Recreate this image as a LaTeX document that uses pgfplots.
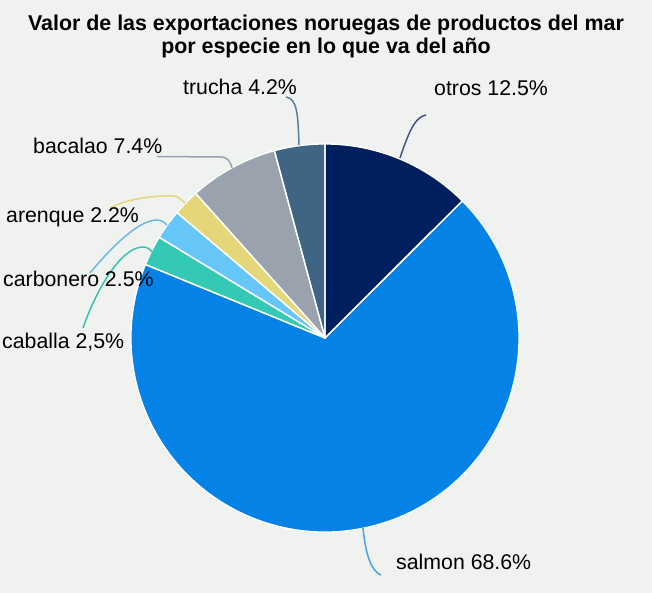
\documentclass[border=0pt]{standalone}
\usepackage{pgfplots}
\pgfplotsset{compat=1.18}
\usepackage{fontspec}
\setmainfont{Liberation Sans}
\definecolor{bgc}{HTML}{F0F2F0}
\definecolor{cOtros}{HTML}{001F5F}
\definecolor{cSalmon}{HTML}{0582E6}
\definecolor{cCaballa}{HTML}{33C9B4}
\definecolor{cCarbonero}{HTML}{66C6F8}
\definecolor{cArenque}{HTML}{E6D67A}
\definecolor{cBacalao}{HTML}{9AA3AD}
\definecolor{cTrucha}{HTML}{3E6684}
% data (percent)
\def\vTrucha{4.2}
\def\vBacalao{7.4}
\def\vArenque{2.2}
\def\vCarbonero{2.5}
\def\vCaballa{2.5}
\def\vSalmon{68.6}
\def\vOtros{12.5}
\pgfmathsetmacro\pietot{\vTrucha+\vBacalao+\vArenque+\vCarbonero+\vCaballa+\vSalmon+\vOtros}
\pgfmathsetmacro\piefac{360/\pietot}
\pgfmathsetmacro\aA{90}
\pgfmathsetmacro\aB{\aA+\vTrucha*\piefac}
\pgfmathsetmacro\aC{\aB+\vBacalao*\piefac}
\pgfmathsetmacro\aD{\aC+\vArenque*\piefac}
\pgfmathsetmacro\aE{\aD+\vCarbonero*\piefac}
\pgfmathsetmacro\aF{\aE+\vCaballa*\piefac}
\pgfmathsetmacro\aG{\aF+\vSalmon*\piefac}
\pgfmathsetmacro\aH{\aG+\vOtros*\piefac}
\newcommand\pieslice[3]{\fill[#3] (axis cs:325,255) -- ++(#1:194pt) arc[start angle=#1,end angle=#2,radius=194pt] -- cycle;}
\newcommand\pieline[2]{\draw[white,line width=1.3pt,line join=round] (axis cs:325,255) -- ++(#1:194pt) arc[start angle=#1,end angle=#2,radius=194pt] -- cycle;}
\begin{document}
\begin{tikzpicture}
\begin{axis}[x=1pt,y=1pt,xmin=0,xmax=652,ymin=0,ymax=593,hide axis,clip=false,scale only axis,enlargelimits=false]
\fill[bgc] (axis cs:0,0) rectangle (axis cs:652,593);
\pieslice{\aA}{\aB}{cTrucha}
\pieslice{\aB}{\aC}{cBacalao}
\pieslice{\aC}{\aD}{cArenque}
\pieslice{\aD}{\aE}{cCarbonero}
\pieslice{\aE}{\aF}{cCaballa}
\pieslice{\aF}{\aG}{cSalmon}
\pieslice{\aG}{\aH}{cOtros}
\pieline{\aA}{\aB}
\pieline{\aB}{\aC}
\pieline{\aC}{\aD}
\pieline{\aD}{\aE}
\pieline{\aE}{\aF}
\pieline{\aF}{\aG}
\pieline{\aG}{\aH}
% leader lines
\draw[line width=1.5pt,color=cOtros!75!white] (axis cs:400,435) .. controls (axis cs:410,465) and (axis cs:416,476) .. (axis cs:426,478);
\draw[line width=1.5pt,color=cTrucha!85!white] (axis cs:286,496) .. controls (axis cs:297,494) and (axis cs:298,480) .. (axis cs:299,448);
\draw[line width=1.5pt,color=cBacalao] (axis cs:157,436.5) -- (axis cs:220,436) .. controls (axis cs:228,436) and (axis cs:230,432) .. (axis cs:232,425);
\draw[line width=1.5pt,color=cArenque] (axis cs:110,385) .. controls (axis cs:130,396) and (axis cs:165,398) .. (axis cs:174,397) .. controls (axis cs:179,396) and (axis cs:182,393) .. (axis cs:185,390);
\draw[line width=1.5pt,color=cCarbonero!80!gray] (axis cs:90,320) .. controls (axis cs:115,350) and (axis cs:140,373) .. (axis cs:157,373) .. controls (axis cs:161,373) and (axis cs:164,371) .. (axis cs:167,368);
\draw[line width=1.5pt,color=cCaballa!90!gray] (axis cs:83,265) .. controls (axis cs:95,300) and (axis cs:120,346) .. (axis cs:143,346) .. controls (axis cs:147,346) and (axis cs:150,344) .. (axis cs:152,341);
\draw[line width=1.5pt,color=cSalmon!75!white] (axis cs:363,65) .. controls (axis cs:366,35) and (axis cs:372,22) .. (axis cs:381,18);
% labels
\node[anchor=base west,inner sep=0pt,font=\fontsize{21.3}{25}\selectfont] at (axis cs:183,498) {trucha 4.2\%};
\node[anchor=base west,inner sep=0pt,font=\fontsize{21.3}{25}\selectfont] at (axis cs:434,497.3) {otros 12.5\%};
\node[anchor=base west,inner sep=0pt,font=\fontsize{21.3}{25}\selectfont] at (axis cs:33,439.7) {bacalao 7.4\%};
\node[anchor=base west,inner sep=0pt,font=\fontsize{21.3}{25}\selectfont] at (axis cs:6,370.3) {arenque 2.2\%};
\node[anchor=base west,inner sep=0pt,font=\fontsize{21.3}{25}\selectfont] at (axis cs:3,306.3) {carbonero 2.5\%};
\node[anchor=base west,inner sep=0pt,font=\fontsize{21.3}{25}\selectfont] at (axis cs:2,244.7) {caballa 2,5\%};
\node[anchor=base west,inner sep=0pt,font=\fontsize{21.3}{25}\selectfont] at (axis cs:396,23) {salmon 68.6\%};
% title
\node[anchor=base,inner sep=0pt,font=\bfseries\fontsize{21.4}{25}\selectfont] at (axis cs:326,562.3) {Valor de las exportaciones noruegas de productos del mar};
\node[anchor=base,inner sep=0pt,font=\bfseries\fontsize{21.4}{25}\selectfont] at (axis cs:326,539) {por especie en lo que va del año};
\end{axis}
\end{tikzpicture}
\end{document}
